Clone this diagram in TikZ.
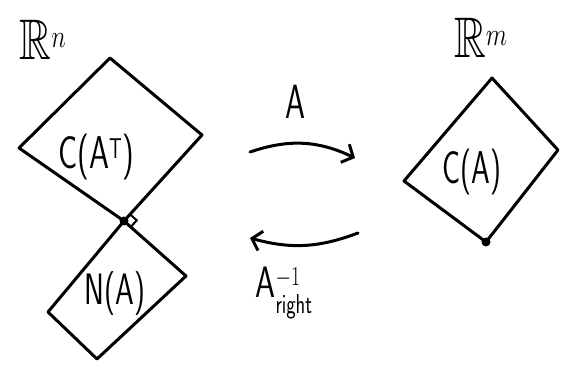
\documentclass[tikz,border=0pt]{standalone}
\usepackage{amsmath,amssymb}
\usetikzlibrary{arrows.meta,calc}
\begin{document}
\begin{tikzpicture}[x=1pt,y=-1pt,
  stroke/.style={line width=3pt,line join=round,line cap=round},
  hand/.style={font=\fontsize{40}{44}\selectfont\sffamily,inner sep=0pt},
  space/.style={font=\fontsize{44}{48}\selectfont,inner sep=0pt},
  maparrow/.style={stroke,-{Straight Barb[length=9pt,width=20pt,line width=3pt]}},
  dotmark/.style={circle,fill=black,inner sep=0pt,minimum size=9pt}]
\useasboundingbox (0,0) rectangle (563,366);
% corners of C(A^T)
\coordinate (ct) at (110,58);
\coordinate (cr) at (202,135);
\coordinate (cl) at (19,148);
\node[dotmark] (o) at (124,221) {};
% corners of N(A)
\coordinate (nr) at (186,276);
\coordinate (nb) at (97,359);
\coordinate (nl) at (48,312);
% corners of C(A)
\coordinate (rt) at (492,78);
\coordinate (rr) at (558,150);
\coordinate (rl) at (404,181);
\node[dotmark] (p) at (486,242) {};
\draw[stroke] (o.center) -- (cl) -- (ct) -- (cr) -- cycle;
\draw[stroke] (o.center) -- (nr) -- (nb) -- (nl) -- cycle;
\draw[stroke] (p.center) -- (rl) -- (rt) -- (rr) -- cycle;
% right angle mark
\coordinate (q1) at ($(o.center)!9pt!(cr)$);
\coordinate (q2) at ($(o.center)!9pt!(nr)$);
\draw[line width=2pt] (q1) -- ($(q1)+(q2)-(o.center)$) -- (q2);
% labels
\node[space] (rn) at (43,40) {\scalebox{1}[1.3]{$\mathbb{R}^n$}};
\node[space] (rm) at (481,38) {\scalebox{1}[1.3]{$\mathbb{R}^m$}};
\node[hand] (cat) at (96,157) {\scalebox{0.8}[1.15]{C(A$^{\mathsf{T}}$)}};
\node[hand] (na) at (115,294) {\scalebox{0.75}[1.1]{N(A)}};
\node[hand] (ca) at (472,172) {\scalebox{0.75}[1.15]{C(A)}};
\node[hand] (alab) at (295,102) {\scalebox{0.8}[1.2]{A}};
\node[hand] (ainv) at (284,293) {\scalebox{0.8}[1.1]{A$_{\mathsf{right}}^{-1}$}};
% arrows
\coordinate (a1) at (250,152);
\coordinate (a2) at (355,158);
\coordinate (b1) at (358,233);
\coordinate (b2) at (250,238);
\draw[maparrow] (a1) to[bend left=22] (a2);
\draw[maparrow] (b1) to[bend left=18] (b2);
\end{tikzpicture}
\end{document}
